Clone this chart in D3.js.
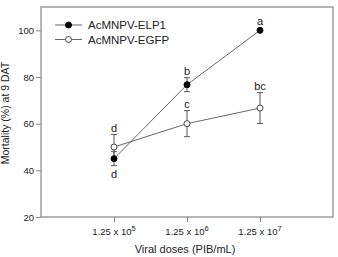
<!DOCTYPE html>
<html lang="en">
<head>
<meta charset="utf-8">
<script src="https://d3js.org/d3.v7.min.js"></script>
<style>
  body { margin: 0; background: #fff; }
  svg { display: block; font-family: "Liberation Sans", Arial, sans-serif; }
</style>
</head>
<body>
<div id="chart"></div>
<script>
// values
var doseExp = [5, 6, 7];
var elp1 = [45, 76.7, 100];
var elp1Err = [3, 3, 0];
var egfp = [50, 60, 66.7];
var egfpErr = [5.4, 5.6, 6.6];
var elp1Letters = ["d", "b", "a"];
var egfpLetters = ["d", "c", "bc"];
var yTicks = [20, 40, 60, 80, 100];

var width = 338, height = 257;
var plotLeft = 41, plotRight = 333, plotTop = 7, plotBottom = 217;
var gray = "#858585", ink = "#222";
var r = 3;

var svg = d3.select("#chart").append("svg")
  .attr("width", width)
  .attr("height", height);

var x = d3.scaleLinear().domain([0, 4]).range([plotLeft, plotRight]);
var y = d3.scaleLinear().domain([20, 110]).range([plotBottom, plotTop]);

// frame
svg.append("rect")
  .attr("x", plotLeft).attr("y", plotTop)
  .attr("width", plotRight - plotLeft).attr("height", plotBottom - plotTop)
  .attr("fill", "none").attr("stroke", gray).attr("stroke-width", 1.2);

// y axis
var yAxis = svg.append("g")
  .attr("transform", "translate(" + plotLeft + ",0)")
  .call(d3.axisLeft(y).tickValues(yTicks).tickSize(5).tickPadding(2));
yAxis.select(".domain").remove();
yAxis.selectAll("line").attr("stroke", gray);
yAxis.selectAll("text").attr("fill", ink).style("font-size", "9.5px")
  .style("font-family", "Liberation Sans, Arial, sans-serif");

// x axis
var xAxis = svg.append("g")
  .attr("transform", "translate(0," + plotBottom + ")")
  .call(d3.axisBottom(x).tickValues([1, 2, 3]).tickSize(5).tickFormat(""));
xAxis.select(".domain").remove();
xAxis.selectAll("line").attr("stroke", gray);

var lab = svg.append("g").selectAll("text")
  .data(doseExp).enter().append("text")
  .attr("x", function(d, i) { return x(i + 1); })
  .attr("y", 235)
  .attr("text-anchor", "middle")
  .attr("fill", ink)
  .style("font-size", "9.5px");
lab.append("tspan").text("1.25 x 10");
lab.append("tspan").attr("dy", -4).style("font-size", "7.5px").text(function(d) { return d; });

// axis titles
svg.append("text")
  .attr("x", (plotLeft + plotRight) / 2 - 2).attr("y", 253)
  .attr("text-anchor", "middle").attr("fill", ink)
  .style("font-size", "11px")
  .text("Viral doses (PIB/mL)");

svg.append("text")
  .attr("transform", "translate(9," + 113 + ") rotate(-90)")
  .attr("text-anchor", "middle").attr("fill", ink)
  .style("font-size", "10.5px")
  .text("Mortality (%) at 9 DAT");

var line = d3.line()
  .x(function(d, i) { return x(i + 1); })
  .y(function(d) { return y(d); });

function drawSeries(vals, errs, filled) {
  var g = svg.append("g");
  g.append("path").datum(vals)
    .attr("d", line).attr("fill", "none")
    .attr("stroke", "#666").attr("stroke-width", 1);
  vals.forEach(function(v, i) {
    if (errs[i] > 0) {
      var cx = x(i + 1), y1 = y(v + errs[i]), y2 = y(v - errs[i]);
      g.append("line").attr("x1", cx).attr("x2", cx).attr("y1", y1).attr("y2", y2)
        .attr("stroke", "#555");
      [y1, y2].forEach(function(yy) {
        g.append("line").attr("x1", cx - 3).attr("x2", cx + 3).attr("y1", yy).attr("y2", yy)
          .attr("stroke", "#555");
      });
    }
  });
  g.selectAll("circle").data(vals).enter().append("circle")
    .attr("cx", function(d, i) { return x(i + 1); })
    .attr("cy", function(d) { return y(d); })
    .attr("r", r)
    .attr("fill", filled ? "#000" : "#fff")
    .attr("stroke", filled ? "#000" : "#444")
    .attr("stroke-width", 1);
}

drawSeries(egfp, egfpErr, false);
drawSeries(elp1, elp1Err, true);

// significance letters
function letters(vals, errs, lets, belowFirst) {
  svg.append("g").selectAll("text").data(lets).enter().append("text")
    .attr("x", function(d, i) { return x(i + 1); })
    .attr("y", function(d, i) {
      if (belowFirst && i === 0) return y(vals[i] - errs[i]) + 12;
      return Math.min(y(vals[i] + errs[i]), y(vals[i]) - r) - 2.5;
    })
    .attr("text-anchor", "middle").attr("fill", ink)
    .style("font-size", "11px")
    .text(function(d) { return d; });
}
letters(elp1, elp1Err, elp1Letters, true);
letters(egfp, egfpErr, egfpLetters, false);

// legend
var legend = [{ name: "AcMNPV-ELP1", filled: true }, { name: "AcMNPV-EGFP", filled: false }];
var lg = svg.append("g").selectAll("g").data(legend).enter().append("g")
  .attr("transform", function(d, i) { return "translate(0," + (25 + i * 14.5) + ")"; });
lg.append("line").attr("x1", 55).attr("x2", 82).attr("y1", 0).attr("y2", 0)
  .attr("stroke", "#666");
lg.append("circle").attr("cx", 68.5).attr("cy", 0).attr("r", r)
  .attr("fill", function(d) { return d.filled ? "#000" : "#fff"; })
  .attr("stroke", function(d) { return d.filled ? "#000" : "#444"; });
lg.append("text").attr("x", 88).attr("y", 4)
  .attr("fill", ink).style("font-size", "11.5px")
  .text(function(d) { return d.name; });
</script>
</body>
</html>
